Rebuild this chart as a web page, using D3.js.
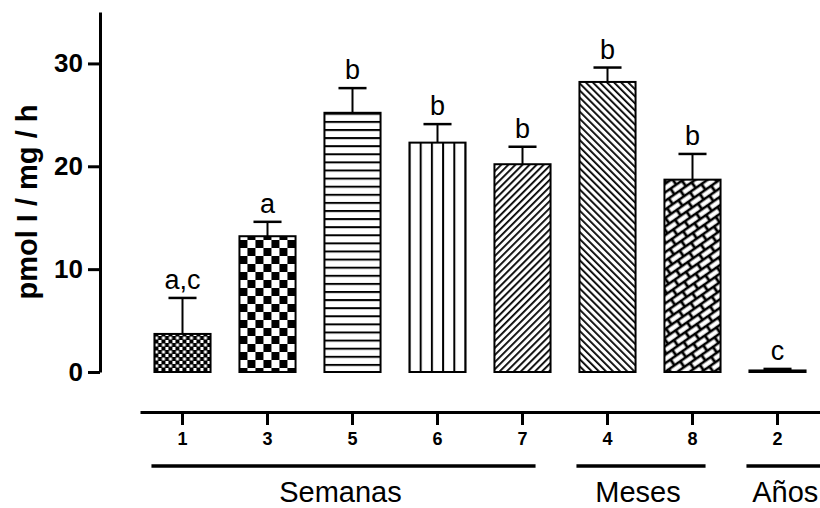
<!DOCTYPE html>
<html>
<head>
<meta charset="utf-8">
<script src="https://cdn.jsdelivr.net/npm/d3@7"></script>
<style>
  body { margin: 0; background: #fff; }
  text { font-family: "Liberation Sans", Arial, sans-serif; }
</style>
</head>
<body>
<div id="chart"></div>
<script>
var categories = ["1", "3", "5", "6", "7", "4", "8", "2"];
var means = [3.7, 13.2, 25.2, 22.3, 20.2, 28.2, 18.7, 0.15];
var errors = [3.5, 1.4, 2.4, 1.8, 1.7, 1.4, 2.5, 0.15];
var letters = ["a,c", "a", "b", "b", "b", "b", "b", "c"];
var patterns = ["fineCheck", "check", "hLines", "vLines", "diagUp", "diagDown", "brick", "none"];
var groupNames = ["Semanas", "Meses", "Años"];
var groupFrom = ["1", "4", "2"];
var groupTo = ["7", "8", "2"];
var yTicks = [0, 10, 20, 30];

var width = 820, height = 508;

var svg = d3.select("#chart").append("svg")
    .attr("width", width)
    .attr("height", height);

var x = d3.scaleBand()
    .domain(categories)
    .range([140, 820])
    .paddingInner(0.34)
    .paddingOuter(0.17);

var y = d3.scaleLinear()
    .domain([0, 35])
    .range([372, 12]);

var bw = x.bandwidth();
var defs = svg.append("defs");

// one pattern per bar, anchored to the bar's left edge
categories.forEach(function(c, i) {
  var kind = patterns[i];
  var bx = x(c), id = "pat" + i;
  var p;
  if (kind == "fineCheck") {
    p = defs.append("pattern").attr("id", id).attr("patternUnits", "userSpaceOnUse")
      .attr("x", bx).attr("y", 0).attr("width", 7).attr("height", 7);
    p.append("rect").attr("width", 7).attr("height", 7).attr("fill", "#000");
    p.append("rect").attr("x", 0.5).attr("y", 0.5).attr("width", 3).attr("height", 3).attr("fill", "#fff");
    p.append("rect").attr("x", 4).attr("y", 4).attr("width", 3).attr("height", 3).attr("fill", "#fff");
  } else if (kind == "check") {
    p = defs.append("pattern").attr("id", id).attr("patternUnits", "userSpaceOnUse")
      .attr("x", bx).attr("y", 0).attr("width", 16).attr("height", 16);
    p.append("rect").attr("width", 16).attr("height", 16).attr("fill", "#fff");
    p.append("rect").attr("width", 8).attr("height", 8).attr("fill", "#000");
    p.append("rect").attr("x", 8).attr("y", 8).attr("width", 8).attr("height", 8).attr("fill", "#000");
  } else if (kind == "hLines") {
    p = defs.append("pattern").attr("id", id).attr("patternUnits", "userSpaceOnUse")
      .attr("x", 0).attr("y", y(means[i])).attr("width", 8).attr("height", 8.1);
    p.append("rect").attr("width", 8).attr("height", 8.1).attr("fill", "#fff");
    p.append("rect").attr("y", 0).attr("width", 8).attr("height", 2).attr("fill", "#000");
  } else if (kind == "vLines") {
    var w = bw / 5;
    p = defs.append("pattern").attr("id", id).attr("patternUnits", "userSpaceOnUse")
      .attr("x", bx - 1).attr("y", 0).attr("width", w).attr("height", 8);
    p.append("rect").attr("width", w).attr("height", 8).attr("fill", "#fff");
    p.append("rect").attr("x", 0).attr("width", 2).attr("height", 8).attr("fill", "#000");
  } else if (kind == "diagUp" || kind == "diagDown") {
    p = defs.append("pattern").attr("id", id).attr("patternUnits", "userSpaceOnUse")
      .attr("width", 5).attr("height", 5)
      .attr("patternTransform", "rotate(" + (kind == "diagUp" ? 45 : -45) + ")");
    p.append("rect").attr("width", 5).attr("height", 5).attr("fill", "#fff");
    p.append("rect").attr("width", 1.8).attr("height", 5).attr("fill", "#000");
  } else if (kind == "brick") {
    p = defs.append("pattern").attr("id", id).attr("patternUnits", "userSpaceOnUse")
      .attr("width", 14).attr("height", 14)
      .attr("patternTransform", "rotate(-35)");
    p.append("rect").attr("width", 14).attr("height", 14).attr("fill", "#000");
    p.append("rect").attr("x", 1.4).attr("y", 1.4).attr("width", 11.2).attr("height", 4.4).attr("fill", "#fff");
    p.append("rect").attr("x", 8.4).attr("y", 8.4).attr("width", 11.2).attr("height", 4.4).attr("fill", "#fff");
    p.append("rect").attr("x", -5.6).attr("y", 8.4).attr("width", 11.2).attr("height", 4.4).attr("fill", "#fff");
  }
});

// bars
svg.selectAll(".bar")
    .data(categories)
  .enter().append("rect")
    .attr("class", "bar")
    .attr("x", function(d) { return x(d); })
    .attr("y", function(d, i) { return y(means[i]); })
    .attr("width", bw)
    .attr("height", function(d, i) { return y(0) - y(means[i]); })
    .attr("fill", function(d, i) { return patterns[i] == "none" ? "#fff" : "url(#pat" + i + ")"; })
    .attr("stroke", "#000")
    .attr("stroke-width", 2);

// error bars (upper only)
var eb = svg.selectAll(".err")
    .data(categories)
  .enter().append("g")
    .attr("class", "err");

eb.append("line")
    .attr("x1", function(d) { return x(d) + bw / 2; })
    .attr("x2", function(d) { return x(d) + bw / 2; })
    .attr("y1", function(d, i) { return y(means[i]); })
    .attr("y2", function(d, i) { return y(means[i] + errors[i]); })
    .attr("stroke", "#000")
    .attr("stroke-width", 2);

eb.append("line")
    .attr("x1", function(d) { return x(d) + bw / 4; })
    .attr("x2", function(d) { return x(d) + bw * 3 / 4; })
    .attr("y1", function(d, i) { return y(means[i] + errors[i]); })
    .attr("y2", function(d, i) { return y(means[i] + errors[i]); })
    .attr("stroke", "#000")
    .attr("stroke-width", 2.5);

// significance letters
svg.selectAll(".letter")
    .data(categories)
  .enter().append("text")
    .attr("class", "letter")
    .attr("x", function(d) { return x(d) + bw / 2; })
    .attr("y", function(d, i) { return y(means[i] + errors[i]) - 9; })
    .attr("text-anchor", "middle")
    .attr("font-size", 27)
    .text(function(d, i) { return letters[i]; });

// y axis
var yAxis = d3.axisLeft(y)
    .tickValues(yTicks)
    .tickSize(12)
    .tickSizeOuter(0)
    .tickPadding(5);

var gy = svg.append("g")
    .attr("transform", "translate(100,0)")
    .call(yAxis);
gy.select(".domain").attr("stroke-width", 3);
gy.selectAll(".tick line").attr("stroke-width", 3);
gy.selectAll(".tick text")
    .attr("font-size", 26)
    .attr("font-weight", "bold")
    .attr("font-family", "Liberation Sans, Arial, sans-serif")
    .attr("fill", "#000");

svg.append("text")
    .attr("transform", "translate(37,202) rotate(-90)")
    .attr("text-anchor", "middle")
    .attr("font-size", 29)
    .attr("font-weight", "bold")
    .text("pmol I / mg / h");

// x axis
var xAxis = d3.axisBottom(x)
    .tickSize(13)
    .tickSizeOuter(0)
    .tickPadding(7);

var gx = svg.append("g")
    .attr("transform", "translate(0,412)")
    .call(xAxis);
gx.select(".domain").attr("stroke-width", 3);
gx.selectAll(".tick line").attr("stroke-width", 3);
gx.selectAll(".tick text")
    .attr("font-size", 18)
    .attr("font-weight", "bold")
    .attr("font-family", "Liberation Sans, Arial, sans-serif")
    .attr("fill", "#000");

// group brackets
groupNames.forEach(function(name, i) {
  var x0 = x(groupFrom[i]) - 3;
  var x1 = (i == groupNames.length - 1) ? width + 12 : x(groupTo[i]) + bw - 15;
  svg.append("line")
    .attr("x1", x0).attr("x2", x1)
    .attr("y1", 466).attr("y2", 466)
    .attr("stroke", "#000")
    .attr("stroke-width", 3.5);
  svg.append("text")
    .attr("x", (i == groupNames.length - 1) ? (x0 + x1) / 2 - 4 : (x0 + x1) / 2 - 3)
    .attr("y", 502)
    .attr("text-anchor", "middle")
    .attr("font-size", 29)
    .text(name);
});
</script>
</body>
</html>
